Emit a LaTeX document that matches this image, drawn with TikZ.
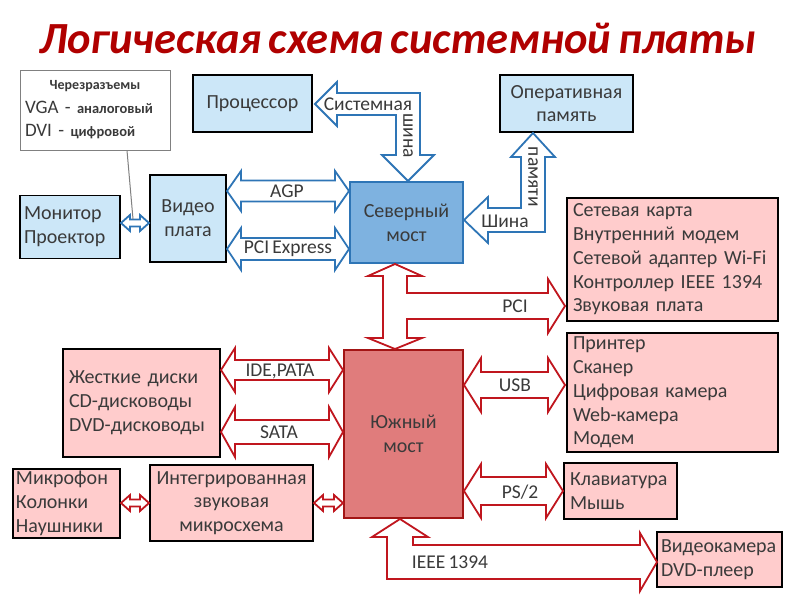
\documentclass[tikz,border=0pt]{standalone}
\usepackage{fontspec}
\setmainfont{Carlito}[WordSpace=0.7]
\definecolor{lblue}{HTML}{CCE7F8}
\definecolor{nbfill}{HTML}{7EB2E0}
\definecolor{ablue}{HTML}{2E75B6}
\definecolor{pinkf}{HTML}{FFCCCC}
\definecolor{sbfill}{HTML}{E07C7C}
\definecolor{sbdraw}{HTML}{A31515}
\definecolor{ared}{HTML}{C0161E}
\definecolor{tred}{HTML}{B00000}
\definecolor{txt}{HTML}{3A3A3A}
\newcommand{\hdarr}[7]{%
  \draw[#1] (#2,#4) -- ({#2+#7},{#4-#6}) -- ({#2+#7},{#4-#5}) -- ({#3-#7},{#4-#5}) -- ({#3-#7},{#4-#6}) -- (#3,#4) -- ({#3-#7},{#4+#6}) -- ({#3-#7},{#4+#5}) -- ({#2+#7},{#4+#5}) -- ({#2+#7},{#4+#6}) -- cycle;}
\begin{document}
\begin{tikzpicture}[x=1pt,y=-1pt,
  box/.style={draw=black, line width=1.8pt, inner sep=0pt, text=txt, font=\fontsize{20}{23.8}\selectfont},
  lb/.style={box, fill=lblue},
  pk/.style={box, fill=pinkf},
  blar/.style={draw=ablue, line width=1.8pt, fill=white},
  rdar/.style={draw=ared, line width=1.8pt, fill=white},
  lbl/.style={text=txt, inner sep=0pt, font=\fontsize{19.5}{22}\selectfont}]
\useasboundingbox (0,0) rectangle (800,600);
\fill[white] (0,0) rectangle (800,600);
% title
\node[text=tred, font=\fontsize{44.5}{44.5}\selectfont\bfseries\itshape] (title) at (398,38) {Логическая схема системной платы};
% boxes
\node[draw=gray, line width=1pt, fill=white, inner sep=0pt, minimum width=150, minimum height=80, text width=140, align=left, text=txt, font=\fontsize{19}{23.5}\selectfont] (note) at (95,110)
  {\makebox[140pt][c]{\fontsize{14}{14}\selectfont\bfseries Черезразъемы}\\VGA - {\fontsize{14.5}{14}\selectfont\bfseries аналоговый}\\DVI - {\fontsize{14.5}{14}\selectfont\bfseries цифровой}};
\node[lb, minimum width=119, minimum height=57] (cpu) at (252.5,103.5) {Процессор};
\node[lb, minimum width=133, minimum height=57, align=center] (ram) at (566.5,103.5) {Оперативная\\память};
\node[lb, minimum width=100, minimum height=63, text width=92, align=left] (mon) at (70,227) {Монитор\\Проектор};
\node[lb, minimum width=76, minimum height=87, align=center] (vid) at (188,218.5) {Видео\\плата};
\node[box, draw=ablue, fill=nbfill, minimum width=113, minimum height=81, align=center] (nb) at (406.5,222.5) {Северный\\мост};
\node[pk, minimum width=211, minimum height=123, text width=199, align=left] (net) at (672.5,259.5) {Сетевая карта\\Внутренний модем\\Сетевой адаптер Wi-Fi\\Контроллер IEEE 1394\\Звуковая плата};
\node[pk, minimum width=211, minimum height=119, text width=199, align=left] (usbdev) at (672.5,392.5) {Принтер\\Сканер\\Цифровая камера\\Web-камера\\Модем};
\node[pk, minimum width=113, minimum height=56, text width=101, align=left] (kbd) at (620.5,491) {Клавиатура\\Мышь};
\node[pk, minimum width=157, minimum height=108, text width=145, align=left] (hdd) at (141.5,403) {Жесткие диски\\CD-дисководы\\DVD-дисководы};
\node[box, draw=sbdraw, fill=sbfill, minimum width=119, minimum height=168, align=center] (sb) at (403.5,434) {Южный\\мост};
\node[pk, minimum width=107, minimum height=69, text width=101, align=left] (mic) at (66.5,503.5) {Микрофон\\Колонки\\Наушники};
\node[pk, minimum width=163, minimum height=76, align=center] (snd) at (231.5,503) {Интегрированная\\звуковая\\микросхема};
\node[pk, minimum width=125, minimum height=55, text width=117, align=left] (cam) at (719.5,559.5) {Видеокамера\\DVD-плеер};
% blue arrows
\draw[blar] (315,104) -- (337,82) -- (337,93) -- (420,93) -- (420,155) -- (434,155) -- (408,181) -- (382,155) -- (396,155) -- (396,115) -- (337,115) -- (337,126) -- cycle;
\node[lbl] (sysl) at (368,104) {Системная};
\node[lbl, rotate=-90] (sysl2) at (408,136) {шина};
\draw[blar] (464,220) -- (488,197) -- (488,208) -- (521,208) -- (521,157) -- (511,157) -- (533,133) -- (555,157) -- (545,157) -- (545,232) -- (488,232) -- (488,243) -- cycle;
\node[lbl] (meml) at (505,221) {Шина};
\node[lbl, rotate=-90] (meml2) at (533,177) {памяти};
\hdarr{blar}{227}{349}{191}{10.5}{20}{14}
\node[lbl] (agp) at (287,191) {AGP};
\hdarr{blar}{227}{349}{249}{11}{21}{14}
\node[lbl] (pcie) at (288,249) {PCI Express};
\hdarr{blar}{121}{149}{223}{3.5}{8}{9}
\coordinate (ntip) at (133,219);
\draw[gray, line width=1pt] ([xshift=32pt]note.south) -- (ntip);
% red arrows
\draw[rdar] (395,264) -- (422,276) -- (407,276) -- (407,293) -- (548,293) -- (548,279) -- (565,306) -- (548,333) -- (548,319) -- (407,319) -- (407,338) -- (422,338) -- (395,349) -- (368,338) -- (383,338) -- (383,276) -- (368,276) -- cycle;
\node[lbl] (pci) at (515,306) {PCI};
\hdarr{rdar}{221}{343}{370}{10}{22}{14}
\node[lbl] (ide) at (280,371) {IDE,PATA};
\hdarr{rdar}{221}{343}{432}{12}{25}{14}
\node[lbl] (sata) at (279,432) {SATA};
\hdarr{rdar}{464}{565}{385}{13}{27}{17}
\node[lbl] (usb) at (515,385) {USB};
\hdarr{rdar}{464}{563}{491}{14}{27}{17}
\node[lbl] (ps2) at (520,492) {PS/2};
\hdarr{rdar}{314}{343}{503}{3.5}{8}{9}
\hdarr{rdar}{121}{149}{503}{3.5}{8}{9}
\draw[rdar] (400,519) -- (428,537) -- (413,537) -- (413,545) -- (640,545) -- (640,533) -- (657,562) -- (640,591) -- (640,579) -- (387,579) -- (387,537) -- (372,537) -- cycle;
\node[lbl] (ieee) at (450,562) {IEEE 1394};
\end{tikzpicture}
\end{document}
